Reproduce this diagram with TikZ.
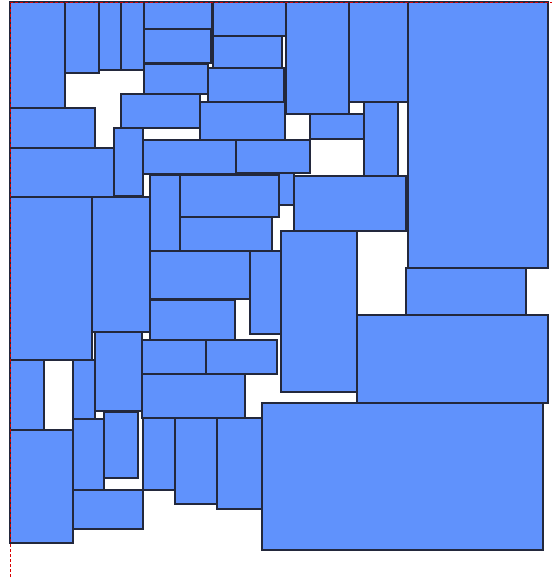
\documentclass[tikz,border=0pt]{standalone}
\usepackage{tikz}
\definecolor{boxfill}{RGB}{96,146,252}
\definecolor{boxline}{RGB}{35,40,60}
\begin{document}
\begin{tikzpicture}[x=1pt,y=-1pt,
  pbox/.style={fill=boxfill,draw=boxline,line width=1.2pt},
  frame/.style={draw=red!85!black,dashed,dash pattern=on 3pt off 2pt,line width=0.8pt}]
\useasboundingbox (0,0) rectangle (558,577);
\foreach \a/\b/\c/\d in {
10/2/65/108, 65/2/99/73, 99/2/121/70, 121/2/144/70,
144/2/212/29, 144/29/211/63, 144/64/208/94, 121/94/200/128,
10/108/95/148, 10/148/114/197, 114/128/143/196, 143/140/236/174,
213/2/286/36, 213/36/282/68, 208/68/284/102, 200/102/285/140,
286/2/349/114, 349/2/408/102, 408/2/548/268, 310/114/364/139,
364/102/398/176, 236/140/310/173, 150/175/180/251, 180/175/279/217,
279/173/294/205, 294/176/406/231, 180/217/272/251, 10/197/92/360,
92/197/150/332, 150/251/250/299, 250/251/281/334, 281/231/357/392,
406/268/526/315, 357/315/548/403, 150/300/235/340, 95/332/142/411,
142/340/206/374, 206/340/277/374, 142/374/245/418, 10/360/44/430,
73/360/95/419, 10/430/73/543, 73/419/104/490, 104/412/138/478,
73/490/143/529, 143/418/175/490, 175/418/217/504, 217/418/262/509,
262/403/543/550}
  \draw[pbox] (\a,\b) rectangle (\c,\d);
\draw[frame] (10,577) -- (10,2) -- (552,2);
\end{tikzpicture}
\end{document}
